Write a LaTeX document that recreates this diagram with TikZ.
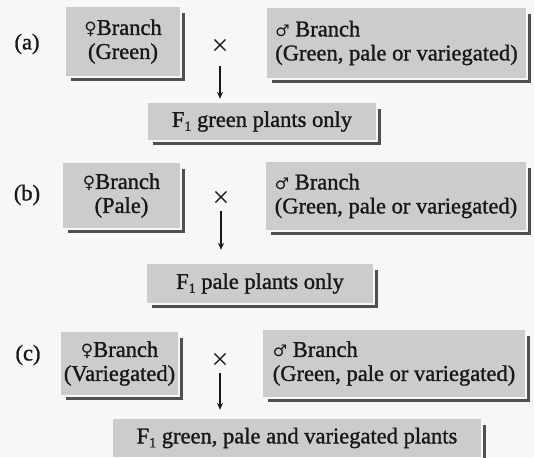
\documentclass[tikz,border=0pt]{standalone}
\usepackage{fontspec}
\setmainfont{Liberation Serif}
\newfontfamily\printfont{Liberation Serif}[FakeBold=1.2]
\newfontfamily\symfont{DejaVu Sans}
\usetikzlibrary{arrows.meta}

\definecolor{paper}{RGB}{247,247,245}
\definecolor{boxgray}{RGB}{204,204,204}
\definecolor{edgegray}{RGB}{80,80,80}
\definecolor{ink}{RGB}{24,24,24}

% sex symbols and the F1 label
\newcommand\fem{{\symfont\fontsize{17}{17}\selectfont ♀}}
\newcommand\mal{{\symfont\fontsize{16}{16}\selectfont ♂}}
\newcommand\Fone{F\lower4pt\hbox{\fontsize{14}{14}\selectfont 1}}

% dark L-shaped edge on the right and bottom of a box
\newcommand\dropline[1]{%
  \draw[shadeline] ([xshift=3pt,yshift=-6pt]#1.north east) -- ([xshift=3pt,yshift=-5pt]#1.south east);
  \draw[shadeline] ([xshift=5pt,yshift=-3.5pt]#1.south west) -- ([xshift=4.5pt,yshift=-3.5pt]#1.south east);}

\begin{document}
\begin{tikzpicture}[x=1pt,y=-1pt,
  box/.style={fill=boxgray, text=ink, inner sep=0pt, font=\printfont\fontsize{22.5}{24}\selectfont},
  shadeline/.style={draw=edgegray, line width=3pt},
  tag/.style={text=ink, inner sep=0pt, font=\printfont\fontsize{22.5}{24}\selectfont},
  times/.style={text=ink, inner sep=0pt, font=\fontsize{30}{30}\selectfont},
  arr/.style={draw=ink, line width=1.2pt, -{Stealth[length=7pt,width=6pt]}}]

\fill[paper] (0,0) rectangle (534,457);
\useasboundingbox (0,0) rectangle (534,457);

% (a)
\node[tag] (la) at (27,44) {(a)};
\node[box, minimum width=114pt, minimum height=69pt, align=center] (fa) at (123,41.5) {\fem Branch\\(Green)};
\node[box, minimum width=259pt, minimum height=70pt, align=left] (ma) at (396.5,43) {\mal\ Branch\\(Green, pale or variegated)};
\node[times] (xa) at (220,47) {\texttimes};
\node[box, minimum width=228pt, minimum height=37pt] (f1a) at (262,121.5) {\Fone\ green plants only};

% (b)
\node[tag] (lb) at (27,195) {(b)};
\node[box, minimum width=117pt, minimum height=65pt, align=center] (fb) at (121.5,195.5) {\fem Branch\\(Pale)};
\node[box, minimum width=260pt, minimum height=68pt, align=left] (mb) at (396,196) {\mal\ Branch\\(Green, pale or variegated)};
\node[times] (xb) at (221,199) {\texttimes};
\node[box, minimum width=226pt, minimum height=39pt] (f1b) at (260,283.5) {\Fone\ pale plants only};

% (c)
\node[tag] (lc) at (28,355) {(c)};
\node[box, minimum width=117pt, minimum height=63pt, align=center] (fc) at (119.5,363.5) {\fem Branch\\(Variegated)};
\node[box, minimum width=262pt, minimum height=67pt, align=left] (mc) at (394,363.5) {\mal\ Branch\\(Green, pale or variegated)};
\node[times] (xc) at (220,361) {\texttimes};
\node[box, minimum width=368pt, minimum height=38pt] (f1c) at (297,438) {\Fone\ green, pale and variegated plants};

\dropline{fa}\dropline{ma}\dropline{f1a}
\dropline{fb}\dropline{mb}\dropline{f1b}
\dropline{fc}\dropline{mc}\dropline{f1c}

% crosses lead down to the offspring
\draw[arr, shorten <=19pt, shorten >=4pt] (xa.center) -- (xa.center |- f1a.north);
\draw[arr, shorten <=12pt, shorten >=14pt] (xb.center) -- (xb.center |- f1b.north);
\draw[arr, shorten <=12pt, shorten >=9pt] (xc.center) -- (xc.center |- f1c.north);

\end{tikzpicture}
\end{document}
